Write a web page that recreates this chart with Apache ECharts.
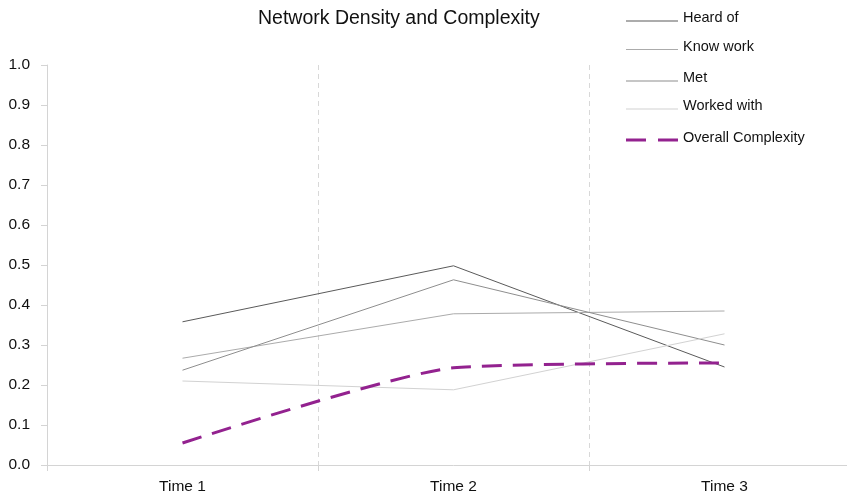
<!DOCTYPE html>
<html>
<head>
<meta charset="utf-8">
<script src="https://cdn.jsdelivr.net/npm/echarts@6/dist/echarts.min.js"></script>
<style>
  html, body { margin: 0; padding: 0; background: #fff; overflow: hidden; }
  /* the plot runs slightly past the right edge of the window */
  #chart { width: 860px; height: 499px; }
</style>
</head>
<body>
<div id="chart"></div>
<script>
// Time points
const categories = ['Time 1', 'Time 2', 'Time 3'];

// Network density per relationship type
const heardOf = [0.358, 0.498, 0.245];
const knowWork = [0.267, 0.378, 0.385];
const met = [0.237, 0.463, 0.300];
const workedWith = [0.210, 0.188, 0.328];

// Overall complexity
const overallComplexity = [0.055, 0.243, 0.255];

const FONT = '"Liberation Sans", Arial, sans-serif';

// Legend swatches: a tiny anchor dot at the origin keeps the stroke
// slightly below the text centre.
const SOLID_ICON = 'path://M0,0H0.01V0.01H0Z M0,6H52V7H0Z';
const DASH_ICON = 'path://M0,0H0.01V0.01H0Z M0,5H20V8H0Z M32,5H52V8H32Z';

const seriesDefs = [
  { name: 'Heard of', data: heardOf, color: '#5a5a5a', width: 1 },
  { name: 'Know work', data: knowWork, color: '#ababab', width: 1 },
  { name: 'Met', data: met, color: '#8e8e8e', width: 1 },
  { name: 'Worked with', data: workedWith, color: '#d2d2d2', width: 1 },
  { name: 'Overall Complexity', data: overallComplexity, color: '#93228f', width: 3, dashed: true, smooth: 0.2 }
];

// One legend per row so each entry sits at its own height
const legendTops = [10.5, 39, 70.5, 98.5, 130];

const chart = echarts.init(document.getElementById('chart'), null, { renderer: 'canvas' });

chart.setOption({
  animation: false,
  backgroundColor: '#ffffff',
  title: {
    text: 'Network Density and Complexity',
    left: 258,
    top: 9,
    padding: 0,
    textStyle: { fontFamily: FONT, fontSize: 19.5, fontWeight: 'normal', color: '#111' }
  },
  legend: seriesDefs.map((s, i) => ({
    data: [s.name],
    orient: 'vertical',
    left: 626,
    top: legendTops[i],
    padding: 0,
    icon: s.dashed ? DASH_ICON : SOLID_ICON,
    itemWidth: 52,
    itemHeight: s.dashed ? 8 : 7,
    itemGap: 0,
    selectedMode: false,
    textStyle: { fontFamily: FONT, fontSize: 14.5, color: '#111' }
  })),
  grid: { left: 47, top: 65, width: 813, height: 400, containLabel: false },
  xAxis: {
    type: 'category',
    data: categories,
    boundaryGap: true,
    axisLine: { lineStyle: { color: '#d4d4d4', width: 1 } },
    axisTick: { show: true, length: 6, lineStyle: { color: '#d4d4d4' } },
    axisLabel: { fontFamily: FONT, fontSize: 15.5, color: '#111', margin: 14 },
    splitLine: {
      show: true,
      interval: (i) => i > 0,
      lineStyle: { color: '#d8d8d8', type: [5, 4], width: 1 }
    }
  },
  yAxis: {
    type: 'value',
    min: 0,
    max: 1,
    interval: 0.1,
    axisLine: { show: true, lineStyle: { color: '#d4d4d4', width: 1 } },
    axisTick: { show: true, length: 6, lineStyle: { color: '#d4d4d4' } },
    axisLabel: {
      fontFamily: FONT, fontSize: 15.5, color: '#111', margin: 17,
      formatter: (v) => v.toFixed(1)
    },
    splitLine: { show: false }
  },
  series: seriesDefs.map((s) => ({
    name: s.name,
    type: 'line',
    data: s.data,
    smooth: s.smooth || false,
    symbol: 'none',
    showSymbol: false,
    color: s.color,
    itemStyle: { color: s.color },
    lineStyle: { color: s.color, width: s.width, type: s.dashed ? [20, 11] : 'solid' },
    z: s.dashed ? 3 : 2
  }))
});
</script>
</body>
</html>
